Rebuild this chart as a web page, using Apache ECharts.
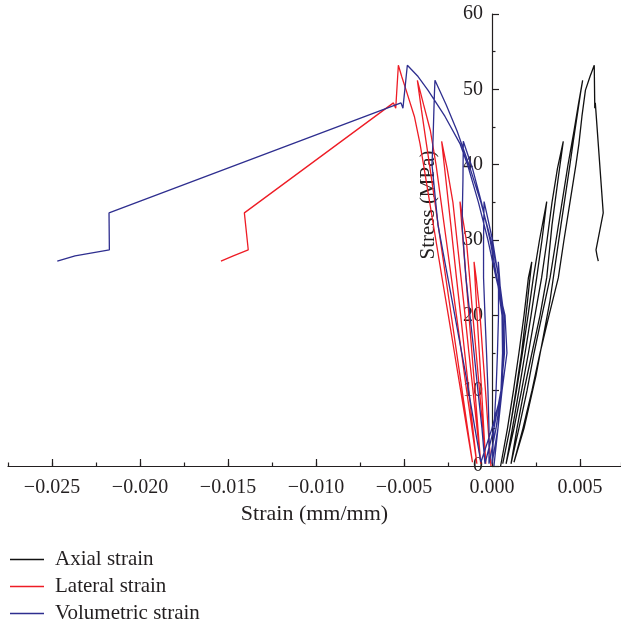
<!DOCTYPE html>
<html>
<head>
<meta charset="utf-8">
<script src="https://cdn.jsdelivr.net/npm/echarts@6/dist/echarts.min.js"></script>
<style>
  html, body { margin: 0; padding: 0; background: #fff; }
  #chart { width: 621px; height: 627px; }
</style>
</head>
<body>
<div id="chart"></div>
<script>
// Cyclic loading test: stress at each recorded step (MPa).
// The three strain arrays below are sampled at the same steps.
const stress = [
  0, 5, 10, 15, 20, 25, 27.1,
  25, 20, 15, 10, 5, 0.3,
  5, 10, 15, 20, 25, 30, 35.1,
  30, 25, 20, 15, 10, 5, 0.3,
  5, 10, 15, 20, 25, 30, 35, 39.5, 43.1,
  38, 32, 25, 20, 15, 10, 5, 0.3,
  5, 10, 15, 20, 25, 30, 35, 40, 44.5, 48, 51.2,
  49.5, 47.3, 43.3, 40, 32, 22, 12, 5, 0.5,
  5, 10, 15, 20, 25, 30, 35, 40, 42.8, 46.4, 49.9, 51.7, 53.2,
  47.5, 48.2, 33.6, 28.7, 27.9, 27.2
];

const axialStrain = [
  0.00049, 0.00088, 0.00122, 0.00153, 0.00182, 0.00207, 0.00226,
  0.00216, 0.00193, 0.00168, 0.00136, 0.00102, 0.00061,
  0.00102, 0.00139, 0.00173, 0.00205, 0.00235, 0.0027, 0.00311,
  0.00284, 0.00254, 0.00222, 0.00188, 0.00153, 0.00116, 0.0008,
  0.00125, 0.00168, 0.00207, 0.00244, 0.00282, 0.00313, 0.00341, 0.00372, 0.00405,
  0.00375, 0.00341, 0.00311, 0.00273, 0.00227, 0.00182, 0.00142, 0.00108,
  0.00153, 0.00199, 0.00239, 0.00284, 0.0033, 0.00364, 0.00398, 0.00432, 0.00466, 0.00491, 0.00515,
  0.00503, 0.00489, 0.00463, 0.00443, 0.00392, 0.0033, 0.0025, 0.00182, 0.00125,
  0.00176, 0.00227, 0.00273, 0.00324, 0.00377, 0.00409, 0.00443, 0.00477, 0.00494, 0.00511, 0.00531, 0.00557, 0.00581,
  0.00584, 0.00587, 0.00632, 0.00591, 0.00597, 0.00604
];

const lateralStrain = [
  -0.00006, -0.00022, -0.00037, -0.00053, -0.00068, -0.0009, -0.00102,
  -0.00097, -0.00085, -0.00072, -0.00059, -0.00047, -0.00035,
  -0.00052, -0.00071, -0.0009, -0.00109, -0.00127, -0.00146, -0.00182,
  -0.00165, -0.00148, -0.00131, -0.00114, -0.00097, -0.0008, -0.00064,
  -0.00085, -0.00108, -0.00131, -0.00153, -0.00176, -0.00199, -0.00222, -0.00255, -0.00286,
  -0.00262, -0.00234, -0.00202, -0.00178, -0.00155, -0.00132, -0.00109, -0.00086,
  -0.00114, -0.00144, -0.00173, -0.00202, -0.00231, -0.0026, -0.00289, -0.00318, -0.0035, -0.00389, -0.00424,
  -0.00414, -0.00401, -0.00376, -0.00355, -0.00306, -0.00244, -0.00182, -0.00139, -0.00111,
  -0.00143, -0.00178, -0.00213, -0.00248, -0.00284, -0.00319, -0.00354, -0.00389, -0.00409, -0.00441, -0.00488, -0.00513, -0.00532,
  -0.00547, -0.0056, -0.01407, -0.01385, -0.0147, -0.0154
];

const volumetricStrain = [
  0.00011, 0.00034, 0.00051, 0.0006, 0.00057, 0.00043, 0.00036,
  0.00037, 0.00037, 0.00031, 0.00023, 0.00011, 0,
  0.00034, 0.00057, 0.00065, 0.0006, 0.00037, 0.00003, -0.00045,
  -0.00048, -0.00048, -0.0004, -0.00031, -0.00023, -0.00017, -0.00017,
  0.00023, 0.00054, 0.00065, 0.00057, 0.00028, -0.00011, -0.0006, -0.00111, -0.00163,
  -0.00165, -0.0017, -0.00148, -0.00125, -0.00102, -0.0008, -0.00057, -0.0004,
  0.00011, 0.00051, 0.00071, 0.00068, 0.0004, -0.00006, -0.00063, -0.00131, -0.00199, -0.00261, -0.00324,
  -0.00327, -0.0033, -0.00335, -0.00341, -0.00307, -0.00227, -0.00148, -0.00097, -0.00063,
  0, 0.00057, 0.00085, 0.00074, 0.00023, -0.00023, -0.00077, -0.00139, -0.00182, -0.00267, -0.00364, -0.0042, -0.00481,
  -0.00506, -0.00517, -0.02176, -0.02174, -0.02369, -0.0247
];

const seriesNames = ['Axial strain', 'Lateral strain', 'Volumetric strain'];
const seriesColors = ['#111111', '#ee1c25', '#2e2e8f'];

// Labelled ticks
const xTickValues = [-0.025, -0.020, -0.015, -0.010, -0.005, 0.000, 0.005];
const yTickValues = [0, 10, 20, 30, 40, 50, 60];

const FONT = '"Liberation Serif", "Times New Roman", serif';
const INK = '#231f20';

function pairs(strain) {
  return stress.map((s, i) => [strain[i], s]);
}

function xLabel(v) {
  const r = Math.round(v * 1000) / 1000;
  const hit = xTickValues.some(t => Math.abs(t - r) < 1e-9);
  if (!hit) return '';
  const txt = Math.abs(r).toFixed(3);
  return r < 0 ? '\u2212' + txt : txt;
}

function yLabel(v) {
  const r = Math.round(v);
  return yTickValues.indexOf(r) >= 0 ? String(r) : '';
}

const chart = echarts.init(document.getElementById('chart'), null, { renderer: 'canvas' });

const lineCommon = {
  type: 'line',
  xAxisIndex: 0,
  yAxisIndex: 0,
  symbol: 'none',
  smooth: false,
  clip: false
};

chart.setOption({
  animation: false,
  backgroundColor: '#ffffff',
  textStyle: { fontFamily: FONT, color: INK },
  grid: [
    // plotting area: full width of the strain axis
    { left: 8, right: 0, top: 14, bottom: 161, outerBoundsMode: 'none' },
    // labelled range of the strain axis (major ticks)
    { left: 52, width: 528, top: 14, bottom: 161, outerBoundsMode: 'none' },
    // stress axis, standing at zero strain
    { left: 492, right: 0, top: 14, bottom: 161, outerBoundsMode: 'none' }
  ],
  xAxis: [
    {
      type: 'value', gridIndex: 0,
      min: -0.0275, max: 0.00733, interval: 0.0025,
      axisLine: { show: true, onZero: false, lineStyle: { color: INK, width: 1.2 } },
      axisTick: { show: true, inside: true, length: 3.5, lineStyle: { color: INK, width: 1.2 } },
      axisLabel: { show: false },
      splitLine: { show: false },
      name: 'Strain (mm/mm)',
      nameLocation: 'middle',
      nameGap: 37,
      nameTextStyle: { fontFamily: FONT, fontSize: 22, color: INK }
    },
    {
      type: 'value', gridIndex: 1,
      min: -0.025, max: 0.005, interval: 0.005,
      axisLine: { show: false, onZero: false },
      axisTick: { show: true, inside: true, length: 7, lineStyle: { color: INK, width: 1.2 } },
      axisLabel: {
        show: true, margin: 12, fontFamily: FONT, fontSize: 20, color: INK,
        formatter: xLabel
      },
      splitLine: { show: false }
    },
    {
      type: 'value', gridIndex: 2, min: 0, max: 1, show: false
    }
  ],
  yAxis: [
    {
      type: 'value', gridIndex: 0, min: 0, max: 60, show: false
    },
    {
      type: 'value', gridIndex: 1, min: 0, max: 60, show: false
    },
    {
      type: 'value', gridIndex: 2, position: 'left',
      min: 0, max: 60, interval: 10,
      axisLine: { show: true, onZero: false, lineStyle: { color: INK, width: 1.2 } },
      axisTick: { show: true, inside: true, length: 7, lineStyle: { color: INK, width: 1.2 } },
      minorTick: { show: true, splitNumber: 2, length: 3.5, lineStyle: { color: INK, width: 1.2 } },
      axisLabel: {
        show: true, margin: 9, fontFamily: FONT, fontSize: 20, color: INK,
        formatter: yLabel
      },
      splitLine: { show: false },
      minorSplitLine: { show: false }
    }
  ],
  legend: {
    orient: 'vertical',
    left: 10,
    top: 549,
    padding: 0,
    itemWidth: 34,
    itemHeight: 14,
    itemGap: 6,
    icon: 'path://M0,0 L34,0 L34,1.4 L0,1.4 Z',
    textStyle: { fontFamily: FONT, fontSize: 21, color: INK, lineHeight: 21, padding: [0, 0, 0, 6] },
    data: seriesNames
  },
  graphic: [
    {
      type: 'text',
      x: 428,
      y: 205,
      rotation: Math.PI / 2,
      style: {
        text: 'Stress (MPa)',
        fontFamily: FONT,
        fontSize: 21,
        fill: INK,
        align: 'center',
        verticalAlign: 'middle'
      }
    }
  ],
  series: [
    Object.assign({}, lineCommon, {
      name: seriesNames[0], data: pairs(axialStrain),
      itemStyle: { color: seriesColors[0] },
      lineStyle: { color: seriesColors[0], width: 1.3 }
    }),
    Object.assign({}, lineCommon, {
      name: seriesNames[1], data: pairs(lateralStrain),
      itemStyle: { color: seriesColors[1] },
      lineStyle: { color: seriesColors[1], width: 1.3 }
    }),
    Object.assign({}, lineCommon, {
      name: seriesNames[2], data: pairs(volumetricStrain),
      itemStyle: { color: seriesColors[2] },
      lineStyle: { color: seriesColors[2], width: 1.3 }
    })
  ]
});
</script>
</body>
</html>
